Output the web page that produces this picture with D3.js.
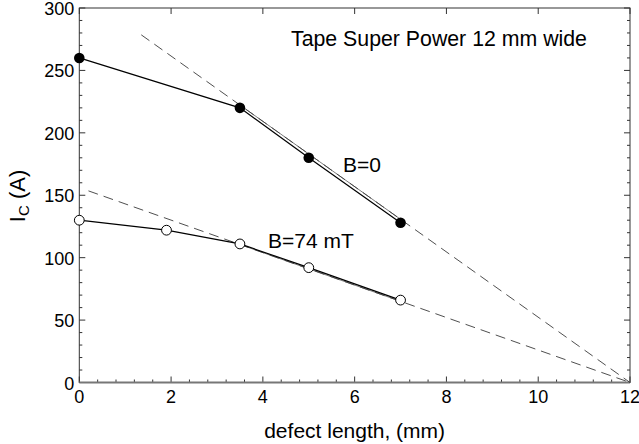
<!DOCTYPE html>
<html><head><meta charset="utf-8">
<script src="https://cdn.jsdelivr.net/npm/d3@7"></script>
<style>body{margin:0;background:#fff}svg{display:block}text{font-family:"Liberation Sans",Arial,sans-serif;fill:#000}</style>
</head><body><svg id="c" width="639" height="444"></svg>
<script>
const xTicks = [0,2,4,6,8,10,12];
const yTicks = [0,50,100,150,200,250,300];
const b0X = [0,3.5,5,7];
const b0Y = [260,220,180,128];
const b74X = [0,1.9,3.5,5,7];
const b74Y = [130,122,111,92,66];
const fit0X = [1.35,12];
const fit0Y = [278.5,0];
const fit74X = [0.2,12];
const fit74Y = [153.5,0];
const seg0X = [3.5,7];
const seg74X = [3.5,7];

const svg = d3.select("#c");
const L=79.3,R=630,T=8,B=382.5;
const x = d3.scaleLinear().domain([0,12]).range([L,R]);
const y = d3.scaleLinear().domain([0,300]).range([B,T]);

svg.append("rect").attr("x",L).attr("y",T).attr("width",R-L).attr("height",B-T)
  .attr("fill","none").attr("stroke","#333").attr("stroke-width",1);

const xMinor = d3.range(0,12.001,0.4);
const yMinor = d3.range(0,300.1,10);
const g = svg.append("g").attr("stroke","#333").attr("stroke-width",1);
xMinor.forEach(v=>{const maj=xTicks.some(t=>Math.abs(t-v)<1e-6);
  g.append("line").attr("x1",x(v)).attr("x2",x(v)).attr("y1",B).attr("y2",B-(maj?6:3));});
xTicks.forEach(v=>{g.append("line").attr("x1",x(v)).attr("x2",x(v)).attr("y1",T).attr("y2",T+6);});
yMinor.forEach(v=>{const maj=yTicks.some(t=>Math.abs(t-v)<1e-6);
  g.append("line").attr("x1",L).attr("x2",L+(maj?6:3)).attr("y1",y(v)).attr("y2",y(v));
  g.append("line").attr("x1",R).attr("x2",R-(maj?6:3)).attr("y1",y(v)).attr("y2",y(v));});
svg.append("line").attr("x1",L).attr("x2",R).attr("y1",B).attr("y2",B).attr("stroke","#777").attr("stroke-width",2);

xTicks.forEach(v=>svg.append("text").attr("x",x(v)).attr("y",B+20).attr("text-anchor","middle").attr("font-size",18).text(v));
yTicks.forEach(v=>svg.append("text").attr("x",L-5).attr("y",y(v)+7).attr("text-anchor","end").attr("font-size",18).text(v));

svg.append("text").attr("x",(L+R)/2).attr("y",438).attr("text-anchor","middle").attr("font-size",21).text("defect length, (mm)");
const yl = svg.append("text").attr("transform","translate(25,196) rotate(-90)").attr("text-anchor","middle").attr("font-size",22);
yl.append("tspan").text("I");
yl.append("tspan").attr("font-size",15).attr("dy",4).text("C");
yl.append("tspan").attr("dy",-4).text(" (A)");

const line = d3.line().x(d=>x(d[0])).y(d=>y(d[1]));
svg.append("path").attr("d",line(fit0X.map((v,i)=>[v,fit0Y[i]]))).attr("fill","none").attr("stroke","#222").attr("stroke-width",0.8).attr("stroke-dasharray","10,6");
svg.append("path").attr("d",line(fit74X.map((v,i)=>[v,fit74Y[i]]))).attr("fill","none").attr("stroke","#222").attr("stroke-width",0.8).attr("stroke-dasharray","10,6");
const f0 = d3.scaleLinear().domain(fit0X).range(fit0Y);
const f74 = d3.scaleLinear().domain(fit74X).range(fit74Y);
svg.append("path").attr("d",line(seg0X.map(v=>[v,f0(v)]))).attr("fill","none").attr("stroke","#444").attr("stroke-width",0.7);
svg.append("path").attr("d",line(seg74X.map(v=>[v,f74(v)]))).attr("fill","none").attr("stroke","#444").attr("stroke-width",0.7);

const d0 = b0X.map((v,i)=>[v,b0Y[i]]);
const d74 = b74X.map((v,i)=>[v,b74Y[i]]);
svg.append("path").attr("d",line(d0)).attr("fill","none").attr("stroke","#000").attr("stroke-width",1.2);
svg.append("path").attr("d",line(d74)).attr("fill","none").attr("stroke","#000").attr("stroke-width",1.2);
svg.selectAll(".p0").data(d0).enter().append("circle").attr("cx",d=>x(d[0])).attr("cy",d=>y(d[1])).attr("r",5.3).attr("fill","#000");
svg.selectAll(".p74").data(d74).enter().append("circle").attr("cx",d=>x(d[0])).attr("cy",d=>y(d[1])).attr("r",4.9).attr("fill","#fff").attr("stroke","#000").attr("stroke-width",1);

svg.append("text").attr("x",291).attr("y",46).attr("font-size",21.3).text("Tape Super Power 12 mm wide");
svg.append("text").attr("x",343).attr("y",172).attr("font-size",21).text("B=0");
svg.append("text").attr("x",268).attr("y",248).attr("font-size",21).text("B=74 mT");
</script></body></html>
